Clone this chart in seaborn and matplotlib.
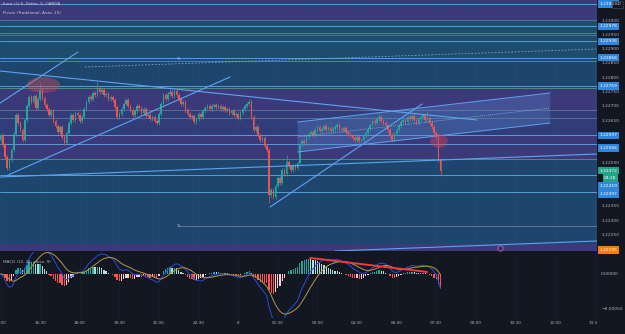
import matplotlib
matplotlib.use("Agg")
import matplotlib.pyplot as plt
import matplotlib.transforms as mtransforms
from matplotlib.patches import Ellipse, Polygon, Rectangle
import seaborn as sns
import pandas as pd
import numpy as np

# ---- data (EUR/USD 5 min, prices in points above 1.22000) ----
base = 1.22
pt = 1e-5
first_open_pt = 580
close_pts = [
    597, 562, 520, 482, 510, 545, 600, 667, 640, 615,
    580, 650, 700, 730, 712, 735, 692, 725, 755, 728,
    702, 690, 667, 680, 645, 630, 608, 625, 590, 570,
    605, 640, 667, 650, 676, 667, 648, 660, 690, 712,
    730, 722, 745, 738, 762, 748, 755, 737, 742, 725,
    730, 720, 695, 660, 672, 690, 705, 720, 700, 685,
    667, 680, 700, 692, 676, 688, 665, 667, 655, 662,
    645, 640, 672, 705, 737, 725, 742, 748, 735, 752,
    737, 722, 705, 712, 685, 672, 660, 665, 643, 652,
    670, 662, 680, 692, 700, 690, 698, 702, 694, 700,
    688, 695, 685, 690, 676, 682, 668, 672, 657, 675,
    690, 699, 705, 713, 660, 615, 625, 598, 580, 588,
    560, 545, 387, 405, 380, 420, 447, 430, 475, 462,
    503, 488, 475, 490, 482, 498, 562, 575, 568, 590,
    600, 608, 598, 615, 625, 612, 620, 630, 615, 622,
    610, 618, 625, 632, 620, 614, 622, 608, 600, 595,
    588, 580, 590, 575, 580, 595, 605, 620, 632, 645,
    638, 655, 660, 648, 640, 632, 615, 598, 580, 600,
    615, 630, 643, 650, 642, 660, 652, 665, 650, 640,
    655, 662, 667, 650, 657, 640, 625, 604, 590, 510,
    472,
]
high_pts = {18: 780, 44: 783, 77: 765, 113: 723, 130: 527, 172: 674, 194: 678}
low_pts = {3: 475, 29: 562, 122: 359, 200: 455}

time_ticks = list(range(0, 271, 18))
time_labels = ["15:00", "16:30", "18:00", "19:30", "21:00", "22:30", "8", "01:30",
               "03:00", "04:30", "06:00", "07:30", "09:00", "10:30", "12:00", "13:30"]

price_ticks = [1.2225, 1.2230, 1.2235, 1.2250, 1.2265, 1.2270,
               1.2275, 1.2280, 1.2285, 1.2290, 1.2295, 1.2300]

blue_levels = [1.23056, 1.22978, 1.22926, 1.22868, 1.22769, 1.22597, 1.22566, 1.22459, 1.22397]
green_levels = [1.22954, 1.22857, 1.22762, 1.22514]
grey_levels = [1.23000, 1.22947, 1.22685, 1.22657]
purple_bands = [(1.23000, 1.23070), (1.22685, 1.22762), (1.22513, 1.22597), (1.22191, 1.22216)]
light_bands = [(1.22597, 1.22685)]
teal_bands = [(1.22857, 1.23000)]

trend_lines = [
    ((-0.2, 1.228215), (216.6, 1.226500)),
    ((-0.2, 1.227095), (35.2, 1.228880)),
    ((3.4, 1.224575), (104.3, 1.228005)),
    ((-0.2, 1.224505), (271.1, 1.225310)),
    ((122.5, 1.223455), (191.6, 1.227060)),
    ((152.0, 1.221915), (271.1, 1.222265)),
]
channel_x = (135.0, 249.8)
channel_upper = (1.22643, 1.227445)
channel_lower = (1.22538, 1.226395)
dashed_line = ((38.4, 1.228355), (271.1, 1.228985))
pivot_s1 = (80.7, 1.22279)
pivot_r1 = (80.7, 1.22862)
ellipses = [(19.5, 1.227725, 15, 0.00056), (199.3, 1.225765, 8, 0.00048)]
event_marker = (227, 1.22202)
macd_trend = ((140.7, 0.000229), (193.9, 0.0000286))

box_labels = ["1.23056", "1.22978", "1.22926", "1.22868", "1.22769", "1.22597",
              "1.22566", "1.22472", "04:18", "1.22459", "1.22397", "1.22195"]
box_prices = [1.23056, 1.22978, 1.22926, 1.22868, 1.22769, 1.22597,
              1.22552, 1.22472, 1.22447, 1.22419, 1.22391, 1.22195]
box_kinds = ["b", "b", "b", "b", "b", "b", "b", "g", "g", "b", "b", "o"]

# ---- computed series ----
idx = np.arange(len(close_pts))
close = base + np.array(close_pts) * pt
open_ = np.r_[base + first_open_pt * pt, close[:-1]]
wick = 7 * pt
high = np.maximum(open_, close) + wick
low = np.minimum(open_, close) - wick
for k, v in high_pts.items():
    high[k] = base + v * pt
for k, v in low_pts.items():
    low[k] = base + v * pt

s = pd.Series(close)
macd = s.ewm(span=12, adjust=False).mean() - s.ewm(span=26, adjust=False).mean()
signal = macd.ewm(span=9, adjust=False).mean()
hist = macd - signal
prev = hist.shift(1).fillna(0)
hist_colors = np.where(hist >= 0,
                       np.where(hist >= prev, "#26a69a", "#b2dfdb"),
                       np.where(hist < prev, "#ff5252", "#ffcdd2"))

# ---- style ----
sns.set_theme(style="dark")
plt.rcParams["font.family"] = ["DejaVu Sans"]
bg_dark = "#131722"
main_bg = "#1e456d"
txt = "#b2b5be"
up_c, dn_c = "#26a69a", "#ef5350"

fig = plt.figure(figsize=(6.25, 3.34), dpi=100, facecolor=bg_dark)
ax = fig.add_axes([0, 83 / 334, 597 / 625, 251 / 334])
axm = fig.add_axes([0, 16 / 334, 597 / 625, 66 / 334])

ax.set_facecolor(main_bg)
axm.set_facecolor(bg_dark)
for a in (ax, axm):
    for sp in a.spines.values():
        sp.set_visible(False)
    a.set_xlim(-0.25, 271.1)
    a.grid(False)

ax.set_ylim(1.221915, 1.2307)
axm.set_ylim(-0.00063, 0.000314)

# vertical grid
for t in time_ticks:
    ax.axvline(t, color="#264b72", lw=0.4, zorder=0.5)
    axm.axvline(t, color="#1c2030", lw=0.4, zorder=0.5)

# bands
for lo, hi in teal_bands:
    ax.axhspan(lo, hi, color="#1c4d6d", lw=0, zorder=0.2)
for lo, hi in purple_bands:
    ax.axhspan(lo, hi, color="#3b397a", lw=0, zorder=0.3)
for lo, hi in light_bands:
    ax.axhspan(lo, hi, color="#303d78", lw=0, zorder=0.3)

# level lines
for p in grey_levels:
    ax.axhline(p, color="#6f7f99", lw=0.5, zorder=1)
for p in green_levels:
    ax.axhline(p, color="#4f9a80", lw=0.6, zorder=1)
for p in blue_levels:
    ax.axhline(p, color="#5aaee8", lw=0.6, zorder=1)
ax.plot([pivot_s1[0], 271.1], [pivot_s1[1]] * 2, color="#6f7f99", lw=0.6, zorder=1)
ax.text(pivot_s1[0] - 0.5, pivot_s1[1], "S1", fontsize=2.6, color="#9aa3b5", va="center", ha="left")
ax.text(pivot_r1[0] - 0.5, pivot_r1[1], "R1", fontsize=2.6, color="#9aa3b5", va="center", ha="left")
ax.plot([dashed_line[0][0], dashed_line[1][0]], [dashed_line[0][1], dashed_line[1][1]],
        color="#7fa6cf", lw=0.6, ls=(0, (2, 2)), zorder=1.5)

# channel
x0, x1 = channel_x
ax.add_patch(Polygon([(x0, channel_upper[0]), (x1, channel_upper[1]),
                      (x1, channel_lower[1]), (x0, channel_lower[0])],
                     closed=True, fc="#5b8fd6", alpha=0.3, lw=0, zorder=2))
ax.plot([x0, x1], channel_upper, color="#5ea3f0", lw=0.7, zorder=5)
ax.plot([x0, x1], channel_lower, color="#5ea3f0", lw=0.7, zorder=5)
ax.plot([x0, x1], [(channel_upper[0] + channel_lower[0]) / 2, (channel_upper[1] + channel_lower[1]) / 2],
        color="#8fb8e8", lw=0.5, ls=(0, (1.5, 1.5)), zorder=5)

# candles
colors = np.where(close >= open_, up_c, dn_c)
ax.vlines(idx, low, high, colors=colors, lw=0.5, zorder=4)
ax.bar(idx, np.clip(np.abs(close - open_), 2 * pt, None), bottom=np.minimum(open_, close),
       width=0.75, color=colors, lw=0, zorder=4)

# trend lines
for (ax0, p0), (ax1, p1) in trend_lines:
    ax.plot([ax0, ax1], [p0, p1], color="#5ea3f0", lw=0.8, zorder=5)

for ex, ey, ew, eh in ellipses:
    ax.add_patch(Ellipse((ex, ey), ew, eh, fc="#e0455a", alpha=0.4, lw=0, zorder=6))

ax.scatter([event_marker[0]], [event_marker[1]], s=14, fc="#2b2d5e", ec="#c45aa6",
           lw=0.7, zorder=7, clip_on=False)

# header texts
ax.text(0.005, 0.984, "Euro / U.S. Dollar, 5, OANDA", transform=ax.transAxes,
        fontsize=3, color="#c9cbd6", va="center")
ax.text(0.005, 0.948, "Pivots (Traditional, Auto, 15)", transform=ax.transAxes,
        fontsize=3, color="#c9cbd6", va="center")

# right price axis
ax.yaxis.tick_right()
ax.set_yticks(price_ticks)
ax.set_yticklabels([f"{p:.5f}" for p in price_ticks])
ax.tick_params(axis="y", length=0, pad=3, labelsize=3.2, labelcolor=txt)
ax.set_xticks([])

blend = mtransforms.blended_transform_factory(ax.transAxes, ax.transData)
kind_color = {"b": "#2f86dd", "g": "#22a38a", "o": "#f57c00"}
for lab, p, k in zip(box_labels, box_prices, box_kinds):
    xpos = 1.012 if lab == "04:18" else 1.004
    ax.text(xpos, p, lab, transform=blend, ha="left", va="center", fontsize=3.2,
            color="white", clip_on=False, zorder=10,
            bbox=dict(boxstyle="square,pad=0.35", fc=kind_color[k], ec="none"))

fig.text(0.9945, 0.987, "USD", ha="right", va="center", fontsize=3, color="#d1d4dc", zorder=20,
         bbox=dict(boxstyle="square,pad=0.3", fc=bg_dark, ec="#50535e", lw=0.4))

# MACD panel
axm.bar(idx, hist, width=0.6, color=hist_colors, lw=0, zorder=2)
sns.lineplot(x=idx, y=macd.values, ax=axm, color="#2450d8", lw=0.7, zorder=3)
sns.lineplot(x=idx, y=signal.values, ax=axm, color="#b9964a", lw=0.7, zorder=3)
axm.plot([macd_trend[0][0], macd_trend[1][0]], [macd_trend[0][1], macd_trend[1][1]],
         color="#f23645", lw=1.4, zorder=4)
axm.text(0.005, 0.85, "MACD (12, 26, close, 9)", transform=axm.transAxes,
         fontsize=3, color=txt, va="center")
axm.yaxis.tick_right()
axm.set_yticks([0.0, -0.0005])
axm.set_yticklabels(["0.00000", "\u22120.00050"])
axm.tick_params(axis="y", length=0, pad=3, labelsize=3.2, labelcolor=txt)
axm.set_xticks(time_ticks)
axm.set_xticklabels(time_labels)
axm.tick_params(axis="x", length=0, pad=2.5, labelsize=3, labelcolor=txt)
axm.set_xlabel("")
axm.set_ylabel("")

fig.patches.append(Rectangle((597 / 625, 0), 28 / 625, 16 / 334, transform=fig.transFigure,
                             fc=bg_dark, ec="none", zorder=5))

fig.savefig("out.png", dpi=100, facecolor=fig.get_facecolor())
